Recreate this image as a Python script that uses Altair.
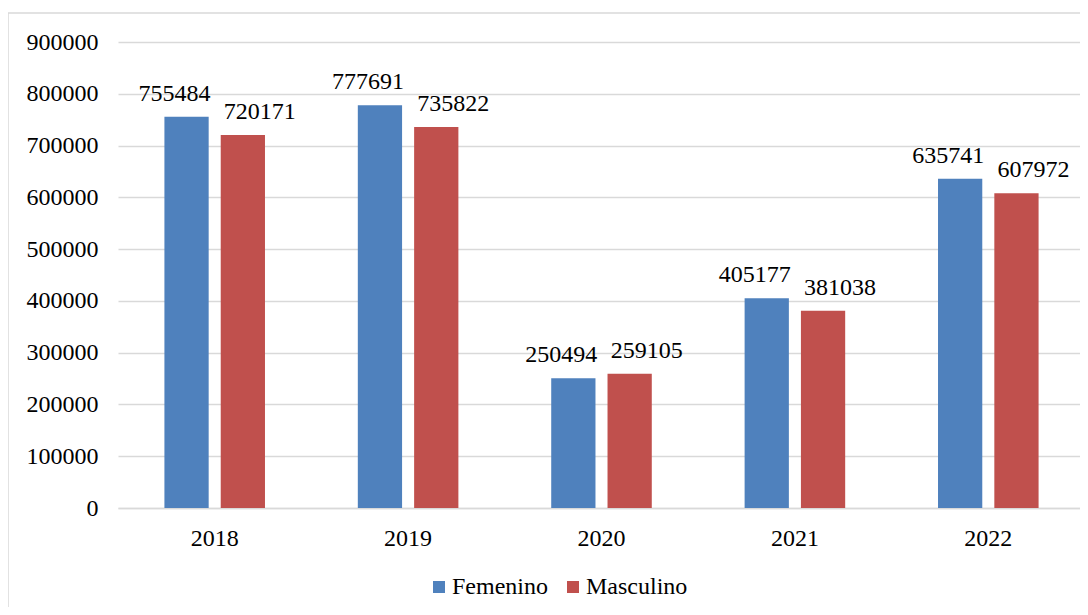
import altair as alt
import pandas as pd

years = ["2018", "2019", "2020", "2021", "2022"]
femenino = [755484, 777691, 250494, 405177, 635741]
masculino = [720171, 735822, 259105, 381038, 607972]
series = ["Femenino", "Masculino"]
colors = ["#4F81BD", "#C0504D"]
y_ticks = [0, 100000, 200000, 300000, 400000, 500000, 600000, 700000, 800000, 900000]

rows = []
for i, yr in enumerate(years):
    rows.append({"year": yr, "sexo": "Femenino", "valor": femenino[i]})
    rows.append({"year": yr, "sexo": "Masculino", "valor": masculino[i]})
df = pd.DataFrame(rows)

FONT = "Liberation Serif"
FS = 24
W, H = 962, 466

x_enc = alt.X(
    "year:N",
    sort=years,
    scale=alt.Scale(paddingInner=0.48, paddingOuter=0.24, range=[0, 967]),
    axis=alt.Axis(
        title=None, labelAngle=0, ticks=False, labelPadding=18,
        domainColor="#d9d9d9", domainWidth=1.5,
        labelFont=FONT, labelFontSize=FS, labelColor="#000000",
    ),
)
xoff_enc = alt.XOffset(
    "sexo:N", sort=series,
    scale=alt.Scale(domain=series, paddingInner=0.214, paddingOuter=0),
)
y_enc = alt.Y(
    "valor:Q",
    scale=alt.Scale(domain=[0, 900000], nice=False),
    axis=alt.Axis(
        title=None, values=y_ticks, format="d", ticks=False, domain=False,
        labelPadding=20, gridColor="#d9d9d9", gridWidth=1.5,
        labelFont=FONT, labelFontSize=FS, labelColor="#000000",
    ),
)

base = alt.Chart(df)

bars = base.mark_bar().encode(
    x=x_enc,
    xOffset=xoff_enc,
    y=y_enc,
    color=alt.Color(
        "sexo:N",
        scale=alt.Scale(domain=series, range=colors),
        legend=alt.Legend(
            title=None, orient="none", legendX=309, legendY=533,
            direction="horizontal", symbolType="square", symbolSize=144,
            symbolStrokeWidth=0, labelOffset=1, columnPadding=13, padding=0,
            labelFont=FONT, labelFontSize=FS, labelColor="#000000",
        ),
    ),
)

text_f = base.transform_filter(alt.datum.sexo == "Femenino").mark_text(
    dx=-12, dy=-16, baseline="alphabetic", font=FONT, fontSize=FS, color="#000000"
).encode(x=x_enc, xOffset=xoff_enc, y=y_enc, text=alt.Text("valor:Q", format="d"))

text_m = base.transform_filter(alt.datum.sexo == "Masculino").mark_text(
    dx=17, dy=-16, baseline="alphabetic", font=FONT, fontSize=FS, color="#000000"
).encode(x=x_enc, xOffset=xoff_enc, y=y_enc, text=alt.Text("valor:Q", format="d"))

frame = alt.Chart(pd.DataFrame({"k": [0]})).mark_rect(
    fillOpacity=0, stroke="#d9d9d9", strokeWidth=1.5
).encode(
    x=alt.value(-110), x2=alt.value(1000), y=alt.value(-29), y2=alt.value(620)
)

chart = alt.layer(frame, bars, text_f, text_m).properties(
    width=W, height=H,
    autosize=alt.AutoSizeParams(type="none"),
    padding={"left": 110, "top": 34, "right": 0, "bottom": 99},
    background="white",
).configure_view(strokeWidth=0)

chart.save("out.html", embed_options={"renderer": "svg", "actions": False})
